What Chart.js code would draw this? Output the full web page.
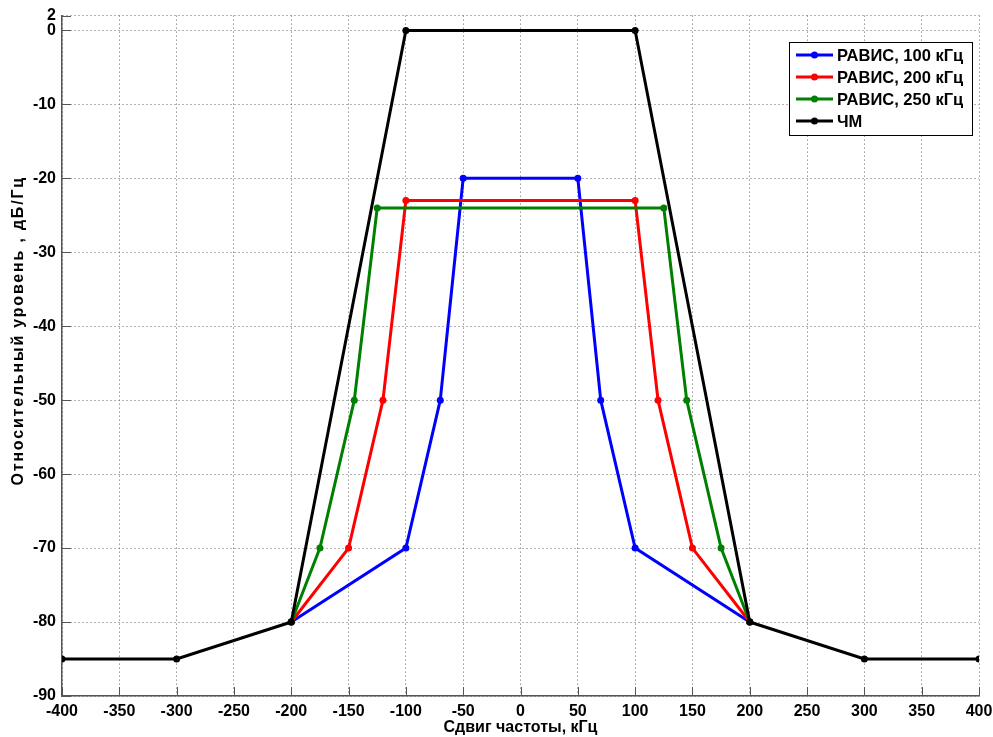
<!DOCTYPE html>
<html>
<head>
<meta charset="utf-8">
<script src="https://cdn.jsdelivr.net/npm/chart.js@4/dist/chart.umd.min.js"></script>
<style>
  html, body { margin: 0; padding: 0; background: #fff; }
  #wrap { width: 993px; height: 737px; }
</style>
</head>
<body>
<div id="wrap"><canvas id="c" width="993" height="737"></canvas></div>
<script>
// series (x = сдвиг частоты, кГц; y = уровень, дБ/Гц)
const ravis100X = [-200, -100, -70, -50, 50, 70, 100, 200];
const ravis100Y = [-80, -70, -50, -20, -20, -50, -70, -80];

const ravis200X = [-200, -150, -120, -100, 100, 120, 150, 200];
const ravis200Y = [-80, -70, -50, -23, -23, -50, -70, -80];

const ravis250X = [-200, -175, -145, -125, 125, 145, 175, 200];
const ravis250Y = [-80, -70, -50, -24, -24, -50, -70, -80];

const chmX = [-400, -300, -200, -100, 100, 200, 300, 400];
const chmY = [-85, -85, -80, 0, 0, -80, -85, -85];

const labels = ['РАВИС, 100 кГц', 'РАВИС, 200 кГц', 'РАВИС, 250 кГц', 'ЧМ'];
const colors = ['#0000ff', '#ff0000', '#008000', '#000000'];

const yTicks = [2, 0, -10, -20, -30, -40, -50, -60, -70, -80, -90];

const xTitle = 'Сдвиг частоты, кГц';
const yTitle = 'Относительный уровень , дБ/Гц';

const FONT = 'Liberation Sans, Arial, sans-serif';

function pts(xs, ys) {
    return xs.map((x, i) => ({ x: x, y: ys[i] }));
}

const series = [
    pts(ravis100X, ravis100Y),
    pts(ravis200X, ravis200Y),
    pts(ravis250X, ravis250Y),
    pts(chmX, chmY)
];

const datasets = series.map((data, i) => ({
    label: labels[i],
    data: data,
    borderColor: colors[i],
    backgroundColor: colors[i],
    borderWidth: 3,
    pointRadius: 3.5,
    pointHoverRadius: 3.5,
    pointBorderWidth: 0,
    fill: false,
    tension: 0,
    order: 3 - i   // ЧМ drawn last, on top
}));

// MATLAB-like inward tick marks
const innerTicks = {
    id: 'innerTicks',
    afterDatasetsDraw(chart) {
        const { ctx, chartArea: a, scales } = chart;
        ctx.save();
        ctx.strokeStyle = '#555';
        ctx.lineWidth = 1;
        ctx.beginPath();
        scales.x.ticks.forEach(t => {
            const px = Math.round(scales.x.getPixelForValue(t.value)) + 0.5;
            ctx.moveTo(px, a.bottom);
            ctx.lineTo(px, a.bottom - 9);
        });
        scales.y.ticks.forEach(t => {
            const py = Math.round(scales.y.getPixelForValue(t.value)) + 0.5;
            ctx.moveTo(a.left, py);
            ctx.lineTo(a.left + 9, py);
        });
        ctx.stroke();
        ctx.restore();
    }
};

// rotated y title, a bit spaced out like the original
const yTitlePlugin = {
    id: 'yTitlePlugin',
    afterDraw(chart) {
        const { ctx, chartArea: a } = chart;
        ctx.save();
        ctx.translate(19, (a.top + a.bottom) / 2 - 25);
        ctx.rotate(-Math.PI / 2);
        ctx.font = 'bold 16px ' + FONT;
        ctx.letterSpacing = '1.8px';
        ctx.fillStyle = '#000';
        ctx.textAlign = 'center';
        ctx.textBaseline = 'middle';
        ctx.fillText(yTitle, 0, 0);
        ctx.restore();
    }
};

// boxed legend in the upper right corner
const boxLegend = {
    id: 'boxLegend',
    afterDraw(chart) {
        const { ctx } = chart;
        const x0 = 789, y0 = 42, w = 183, h = 93;
        ctx.save();
        ctx.fillStyle = '#fff';
        ctx.fillRect(x0, y0, w, h);
        ctx.strokeStyle = '#000';
        ctx.lineWidth = 1;
        ctx.strokeRect(x0 + 0.5, y0 + 0.5, w, h);
        ctx.font = 'bold 16.5px ' + FONT;
        ctx.textBaseline = 'middle';
        labels.forEach((lab, i) => {
            const y = y0 + 13 + i * 22;
            ctx.strokeStyle = colors[i];
            ctx.lineWidth = 3;
            ctx.beginPath();
            ctx.moveTo(796, y);
            ctx.lineTo(833, y);
            ctx.stroke();
            ctx.fillStyle = colors[i];
            ctx.beginPath();
            ctx.arc(814.5, y, 3.5, 0, Math.PI * 2);
            ctx.fill();
            ctx.fillStyle = '#000';
            ctx.fillText(lab, 837, y + 1);
        });
        ctx.restore();
    }
};

new Chart(document.getElementById('c'), {
    type: 'line',
    data: { datasets: datasets },
    options: {
        responsive: false,
        animation: false,
        layout: { padding: { top: 15, right: 14, bottom: 0, left: 0 } },
        plugins: {
            legend: { display: false },
            tooltip: { enabled: false }
        },
        scales: {
            x: {
                type: 'linear',
                min: -400,
                max: 400,
                afterFit: s => { s.height = 41; s.paddingRight = 0; s.paddingLeft = 0; },
                ticks: {
                    stepSize: 50,
                    padding: 6,
                    color: '#000',
                    font: { family: FONT, size: 16, weight: 'bold' }
                },
                grid: { color: '#666', drawTicks: false },
                border: { color: '#555', width: 1.5, dash: [1, 3] },
                title: {
                    display: true,
                    text: xTitle,
                    color: '#000',
                    padding: { top: 0, bottom: 0 },
                    font: { family: FONT, size: 16, weight: 'bold' }
                }
            },
            y: {
                type: 'linear',
                min: -90,
                max: 2,
                afterFit: s => { s.width = 62; },
                afterBuildTicks: s => { s.ticks = yTicks.map(v => ({ value: v })); },
                ticks: {
                    padding: 6,
                    color: '#000',
                    font: { family: FONT, size: 16, weight: 'bold' }
                },
                grid: { color: '#666', drawTicks: false },
                border: { color: '#555', width: 1.5, dash: [1, 3] },
                title: { display: false }
            }
        }
    },
    plugins: [innerTicks, yTitlePlugin, boxLegend]
});
</script>
</body>
</html>
